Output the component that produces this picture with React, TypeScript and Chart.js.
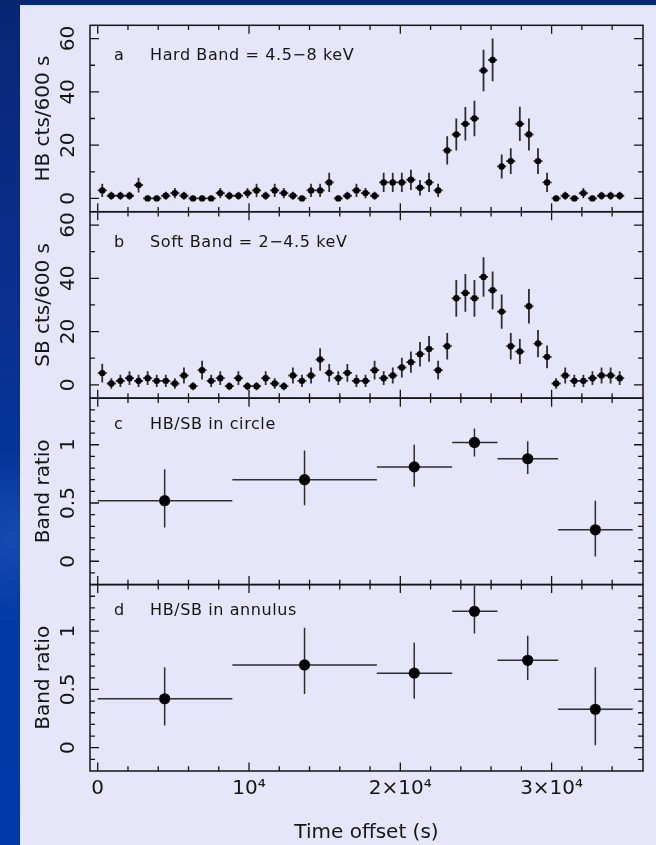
import { useEffect, useRef } from 'react';
import { Chart, registerables } from 'chart.js';

Chart.register(...registerables);

// ---------- data ----------
const binCenters = [
  300, 900, 1500, 2100, 2700, 3300, 3900, 4500, 5100, 5700, 6300, 6900, 7500, 8100, 8700,
  9300, 9900, 10500, 11100, 11700, 12300, 12900, 13500, 14100, 14700, 15300, 15900, 16500,
  17100, 17700, 18300, 18900, 19500, 20100, 20700, 21300, 21900, 22500, 23100, 23700, 24300,
  24900, 25500, 26100, 26700, 27300, 27900, 28500, 29100, 29700, 30300, 30900, 31500, 32100,
  32700, 33300, 33900, 34500,
];
const binHalfWidth = 300;

const hardCounts = [
  3, 1, 1, 1, 5, 0, 0, 1, 2, 1, 0, 0, 0, 2, 1, 1, 2, 3, 1, 3, 2, 1, 0, 3, 3,
  6, 0, 1, 3, 2, 1, 6, 6, 6, 7, 4, 6, 3, 18, 24, 28, 30, 48, 52, 12, 14, 28, 24, 14, 6,
  0, 1, 0, 2, 0, 1, 1, 1,
];
const hardErr = [
  2.5, 1.5, 1.5, 1.5, 2.8, 1, 1, 1.5, 1.9, 1.5, 1, 1, 1, 1.9, 1.5, 1.5, 1.9, 2.5, 1.5, 2.5, 1.9, 1.5, 1, 2.5, 2.5,
  3.6, 1, 1.5, 2.5, 1.9, 1.5, 3.6, 3.6, 3.6, 3.8, 2.9, 3.6, 2.5, 5.3, 6.0, 6.3, 6.7, 7.8, 8.0, 4.5, 4.8, 6.4, 6.0, 4.8, 3.6,
  1, 1.5, 1, 1.9, 1, 1.5, 1.5, 1.5,
];

const softCounts = [
  4.4, 0.5, 1.5, 2.5, 1.5, 2.5, 1.5, 1.5, 0.5, 3.5, -0.5, 5.5, 1.5, 2.5, -0.5, 2.5, -0.5, -0.5, 2.5, 0.5, -0.5, 3.5, 1.5, 3.5, 9.5,
  4.5, 2.5, 4.5, 1.5, 1.5, 5.5, 2.5, 3.5, 6.5, 8.5, 11.5, 13.5, 5.5, 14.5, 32.5, 34.5, 32.5, 40.5, 35.5, 27.5, 14.5, 12.5, 29.5, 15.5, 10.5,
  0.5, 3.5, 1.5, 1.5, 2.5, 3.5, 3.5, 2.5,
];
const softErr = [
  3.5, 2, 2.3, 2.6, 2.3, 2.6, 2.3, 2.3, 2, 3, 1.5, 3.5, 2.3, 2.6, 1.5, 2.6, 1.5, 1.5, 2.6, 2, 1.5, 3, 2.3, 3, 4.2,
  3.3, 2.6, 3.3, 2.3, 2.3, 3.5, 2.6, 3, 3.7, 4, 4.6, 4.8, 3.5, 5, 6.9, 7.1, 6.9, 7.4, 7.1, 6.4, 5, 4.7, 6.5, 5.1, 4.3,
  2, 3, 2.3, 2.3, 2.6, 3, 3, 2.6,
];

const ratioTimes = [4425, 13670, 20920, 24900, 28420, 32890];
const ratioStart = [0, 8900, 18450, 23430, 26420, 30430];
const ratioEnd = [8900, 18450, 23430, 26420, 30430, 35360];

const circleRatio = [0.52, 0.70, 0.81, 1.02, 0.88, 0.27];
const circleErrUp = [0.27, 0.25, 0.19, 0.12, 0.15, 0.25];
const circleErrDn = [0.23, 0.22, 0.17, 0.12, 0.13, 0.23];

const annulusRatio = [0.42, 0.71, 0.64, 1.17, 0.75, 0.33];
const annulusErrUp = [0.27, 0.32, 0.26, 0.22, 0.21, 0.36];
const annulusErrDn = [0.23, 0.25, 0.22, 0.19, 0.17, 0.31];

const xTickValues = [0, 10000, 20000, 30000];
const xTickLabels = ['0', '10\u2074', '2\u00d710\u2074', '3\u00d710\u2074'];
const countTickValues = [0, 20, 40, 60];
const countTickLabels = ['0', '20', '40', '60'];
const ratioTickValues = [0, 0.5, 1];
const ratioTickLabels = ['0', '0.5', '1'];

const panelLetters = ['a', 'b', 'c', 'd'];
const panelTitles = [
  'Hard Band = 4.5\u22128 keV',
  'Soft Band = 2\u22124.5 keV',
  'HB/SB in circle',
  'HB/SB in annulus',
];
const yTitles = ['HB cts/600 s', 'SB cts/600 s', 'Band ratio', 'Band ratio'];
const xTitle = 'Time offset (s)';

// ---------- styling ----------
const FONT = "'DejaVu Sans', 'Liberation Sans', sans-serif";
const INK = '#151515';
const PANEL_IDS = ['yA', 'yB', 'yC', 'yD'];
const annotBaselines = [35, 35.2, 31, 30.5];

function line(ctx: CanvasRenderingContext2D, x1: number, y1: number, x2: number, y2: number) {
  ctx.moveTo(x1, y1);
  ctx.lineTo(x2, y2);
}

const panelPlugin = {
  id: 'panelDecor',
  beforeDatasetsDraw(chart: any) {
    const ctx: CanvasRenderingContext2D = chart.ctx;
    const xs = chart.scales.x;
    ctx.save();
    ctx.strokeStyle = '#2e2e2e';
    const countSets: [string, number[], number[]][] = [
      ['yA', hardCounts, hardErr],
      ['yB', softCounts, softErr],
    ];
    ctx.lineWidth = 1.8;
    for (const [id, vals, errs] of countSets) {
      const ys = chart.scales[id];
      ctx.beginPath();
      for (let i = 0; i < binCenters.length; i++) {
        const px = xs.getPixelForValue(binCenters[i]);
        const py = ys.getPixelForValue(vals[i]);
        line(ctx, xs.getPixelForValue(binCenters[i] - binHalfWidth), py, xs.getPixelForValue(binCenters[i] + binHalfWidth), py);
        line(ctx, px, ys.getPixelForValue(vals[i] - errs[i]), px, ys.getPixelForValue(vals[i] + errs[i]));
      }
      ctx.stroke();
    }
    const ratioSets: [string, number[], number[], number[]][] = [
      ['yC', circleRatio, circleErrUp, circleErrDn],
      ['yD', annulusRatio, annulusErrUp, annulusErrDn],
    ];
    ctx.lineWidth = 1.5;
    for (const [id, vals, up, dn] of ratioSets) {
      const ys = chart.scales[id];
      ctx.beginPath();
      for (let i = 0; i < ratioTimes.length; i++) {
        const px = xs.getPixelForValue(ratioTimes[i]);
        const py = ys.getPixelForValue(vals[i]);
        line(ctx, xs.getPixelForValue(ratioStart[i]), py, xs.getPixelForValue(ratioEnd[i]), py);
        line(ctx, px, ys.getPixelForValue(vals[i] - dn[i]), px, ys.getPixelForValue(vals[i] + up[i]));
      }
      ctx.stroke();
    }
    ctx.restore();
  },
  afterDatasetsDraw(chart: any) {
    const ctx: CanvasRenderingContext2D = chart.ctx;
    const xs = chart.scales.x;
    const { left, right } = chart.chartArea;
    ctx.save();
    ctx.strokeStyle = INK;
    PANEL_IDS.forEach((id, p) => {
      const ys = chart.scales[id];
      const top = ys.top;
      const bottom = ys.bottom;
      ctx.lineWidth = 1.3;
      ctx.beginPath();
      for (let v = 0; v <= 34000; v += 2000) {
        const px = xs.getPixelForValue(v);
        const len = v % 10000 === 0 ? 8.5 : 4.8;
        line(ctx, px, top, px, top + len);
        line(ctx, px, bottom, px, bottom - len);
      }
      if (p < 2) {
        for (let v = 0; v <= 60; v += 10) {
          const py = ys.getPixelForValue(v);
          const len = v % 20 === 0 ? 9 : 5;
          line(ctx, left, py, left + len, py);
          line(ctx, right, py, right - len, py);
        }
      } else {
        for (let i = -1; i <= 13; i++) {
          const py = ys.getPixelForValue(i / 10);
          const len = i % 5 === 0 ? 9 : 5;
          line(ctx, left, py, left + len, py);
          line(ctx, right, py, right - len, py);
        }
      }
      ctx.stroke();
      ctx.lineWidth = 1.5;
      ctx.strokeRect(left, top, right - left, bottom - top);
      ctx.fillStyle = INK;
      ctx.font = `16px ${FONT}`;
      (ctx as any).letterSpacing = '0.6px';
      ctx.textBaseline = 'alphabetic';
      ctx.textAlign = 'left';
      ctx.fillText(panelLetters[p], left + 24, top + annotBaselines[p]);
      ctx.fillText(panelTitles[p], left + 60, top + annotBaselines[p]);
      (ctx as any).letterSpacing = '0px';
    });
    ctx.restore();
  },
};

function yScale(idx: number, min: number, max: number, values: number[], labels: string[], pad: number) {
  return {
    type: 'linear',
    position: 'left',
    stack: 'panels',
    stackWeight: 1,
    weight: 10 - idx,
    min,
    max,
    afterFit: (s: any) => {
      s.width = 70;
    },
    afterBuildTicks: (s: any) => {
      s.ticks = values.map((v) => ({ value: v }));
    },
    border: { display: false },
    grid: { display: false, drawTicks: false },
    ticks: {
      autoSkip: false,
      minRotation: 90,
      maxRotation: 90,
      crossAlign: 'center',
      padding: pad,
      color: INK,
      font: { family: FONT, size: 20 },
      callback: (v: any) => {
        const i = values.indexOf(Number(v));
        return i >= 0 ? labels[i] : '';
      },
    },
    title: {
      display: true,
      text: yTitles[idx],
      color: INK,
      font: { family: FONT, size: 20 },
      padding: { top: 11.5, bottom: 0 },
    },
  };
}

export default function App() {
  const ref = useRef<HTMLCanvasElement>(null);

  useEffect(() => {
    if (!ref.current) return;
    const toPts = (xs: number[], ys: number[]) => xs.map((x, i) => ({ x, y: ys[i] }));
    const chart = new Chart(ref.current, {
      type: 'scatter',
      data: {
        datasets: [
          { data: toPts(binCenters, hardCounts), yAxisID: 'yA', pointRadius: 3.2, backgroundColor: '#000', borderWidth: 0 },
          { data: toPts(binCenters, softCounts), yAxisID: 'yB', pointRadius: 3.2, backgroundColor: '#000', borderWidth: 0 },
          { data: toPts(ratioTimes, circleRatio), yAxisID: 'yC', pointRadius: 5.6, backgroundColor: '#000', borderWidth: 0 },
          { data: toPts(ratioTimes, annulusRatio), yAxisID: 'yD', pointRadius: 5.6, backgroundColor: '#000', borderWidth: 0 },
        ],
      } as any,
      options: {
        animation: false,
        responsive: false,
        devicePixelRatio: 1,
        events: [],
        layout: { padding: { top: 20, right: 13, left: 0, bottom: 0 } },
        plugins: { legend: { display: false }, tooltip: { enabled: false } },
        scales: {
          x: {
            type: 'linear',
            position: 'bottom',
            min: -510,
            max: 36040,
            afterFit: (s: any) => {
              s.height = 74;
            },
            afterBuildTicks: (s: any) => {
              s.ticks = xTickValues.map((v) => ({ value: v }));
            },
            border: { display: false },
            grid: { display: false, drawTicks: false },
            ticks: {
              autoSkip: false,
              maxRotation: 0,
              padding: 6,
              color: INK,
              font: { family: FONT, size: 20 },
              callback: (v: any) => {
                const i = xTickValues.indexOf(Number(v));
                return i >= 0 ? xTickLabels[i] : '';
              },
            },
            title: {
              display: true,
              text: xTitle,
              color: INK,
              font: { family: FONT, size: 20 },
              padding: { top: 0, bottom: 0 },
            },
          },
          yA: yScale(0, -5, 65, countTickValues, countTickLabels, 8.3),
          yB: yScale(1, -5, 65, countTickValues, countTickLabels, 8.3),
          yC: yScale(2, -0.2, 1.4, ratioTickValues, ratioTickLabels, 5.1),
          yD: yScale(3, -0.2, 1.4, ratioTickValues, ratioTickLabels, 5.1),
        } as any,
      },
      plugins: [panelPlugin],
    });
    return () => chart.destroy();
  }, []);

  return (
    <div
      style={{
        position: 'absolute',
        left: 0,
        top: 0,
        width: 656,
        height: 845,
        overflow: 'hidden',
        background:
          'radial-gradient(ellipse 60px 90px at 10px 540px, rgba(40,90,190,0.55), rgba(40,90,190,0) 100%), linear-gradient(180deg, #072674 0%, #0a2f8f 35%, #0038a4 70%, #003aa8 100%)',
      }}
    >
      <canvas
        ref={ref}
        width={636}
        height={840}
        style={{ position: 'absolute', left: 20, top: 5, width: 636, height: 840, background: '#E6E6FA' }}
      />
    </div>
  );
}
